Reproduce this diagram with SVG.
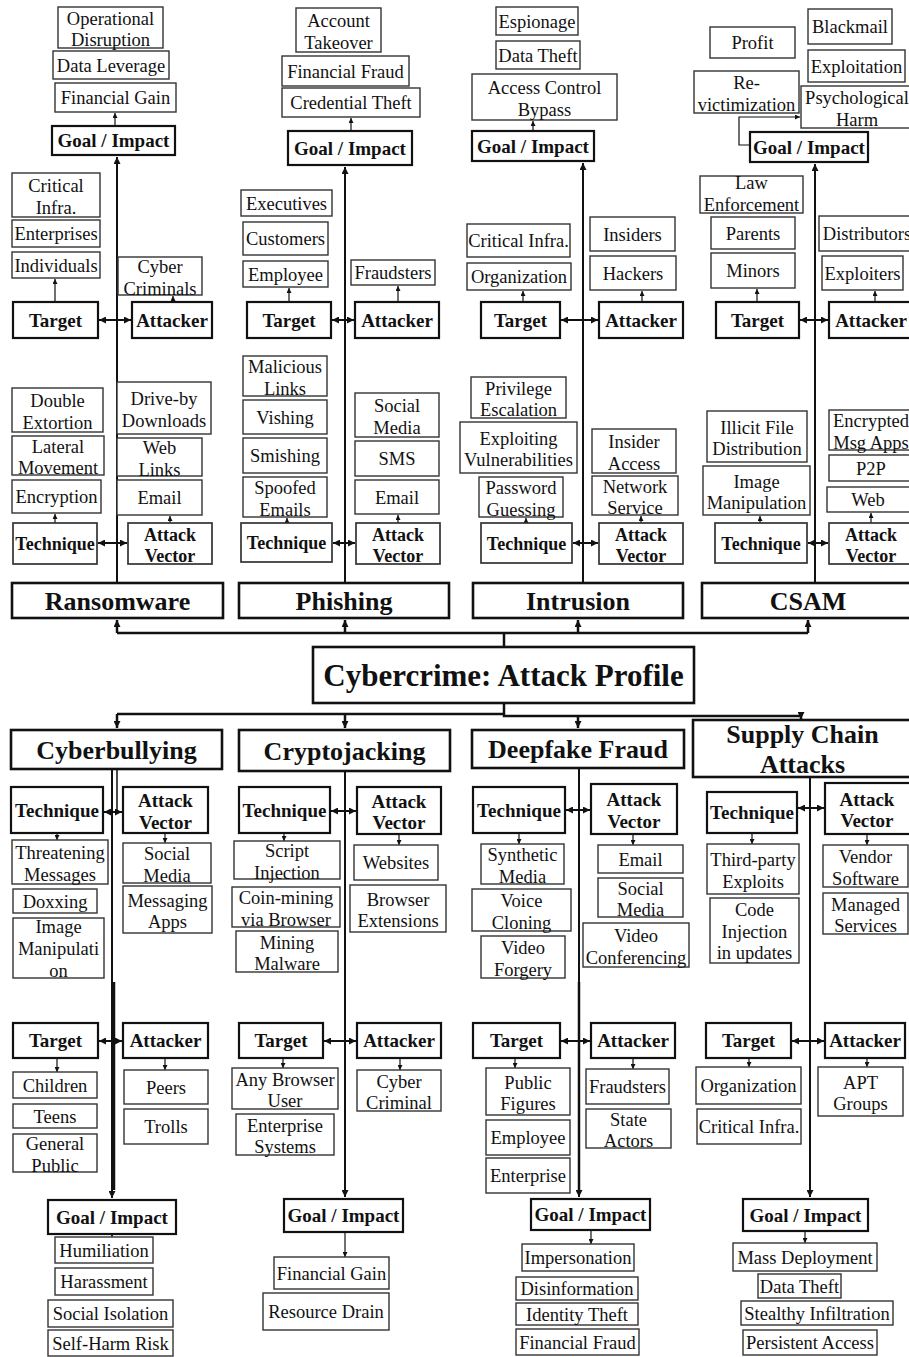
<svg xmlns="http://www.w3.org/2000/svg" width="909" height="1357" viewBox="0 0 909 1357">
<defs>
<marker id="a" viewBox="0 0 10 10" refX="10" refY="5" markerWidth="5" markerHeight="5" markerUnits="userSpaceOnUse" orient="auto-start-reverse"><path d="M0,0 L10,5 L0,10 z" fill="#111"/></marker>
<marker id="b" viewBox="0 0 10 10" refX="10" refY="5" markerWidth="8" markerHeight="7" markerUnits="userSpaceOnUse" orient="auto-start-reverse"><path d="M0,0 L10,5 L0,10 z" fill="#111"/></marker>
</defs>
<style>
.l rect{fill:#fff;stroke:#333;stroke-width:1.4}
.h rect{fill:#fff;stroke:#111;stroke-width:2.2}
.h.g rect{stroke:#333;stroke-width:1.7}
.c rect{fill:#fff;stroke:#111;stroke-width:2.6}
text{font-family:"Liberation Serif","DejaVu Serif",serif;fill:#111;text-anchor:middle}
.l text{font-size:18.5px}
.h text{font-size:19px;font-weight:bold}
.h text.s{font-size:18px}
.c text{font-size:26px;font-weight:bold}
.c text.m{font-size:31px}
#connectors path{fill:none;stroke:#111}
#connectors .w1{stroke-width:1.2;marker-end:url(#a)}
#connectors .w2{stroke-width:2;marker-end:url(#b)}
#connectors .d{stroke-width:2;marker-start:url(#b);marker-end:url(#b)}
#connectors .t{stroke-width:2.5}
#connectors .tu{stroke-width:2.5;marker-end:url(#b)}
</style>
<rect x="0" y="0" width="909" height="1357" fill="#fff"/>
<g id="connectors">
<path class="t" d="M504,647 V633 M117,633 H808"/>
<path class="tu" d="M117,633 V620"/>
<path class="tu" d="M345,633 V620"/>
<path class="tu" d="M578,633 V620"/>
<path class="tu" d="M808,633 V620"/>
<path class="w2" d="M117,583 V157"/>
<path class="w2" d="M345,583 V167"/>
<path class="w2" d="M583,583 V163"/>
<path class="w2" d="M815,583 V164"/>
<path class="w1" d="M115,126 V113"/>
<path class="w1" d="M55,302 V279"/>
<path class="w1" d="M173,302 V296"/>
<path class="w1" d="M55,523 V514"/>
<path class="w1" d="M170,523 V516"/>
<path class="w1" d="M351,131 V118"/>
<path class="w1" d="M289,302 V288"/>
<path class="w1" d="M398,302 V286"/>
<path class="w1" d="M287,523 V518"/>
<path class="w1" d="M398,523 V515"/>
<path class="w1" d="M533,131 V121"/>
<path class="w1" d="M523,302 V291"/>
<path class="w1" d="M642,302 V291"/>
<path class="w1" d="M526,523 V518"/>
<path class="w1" d="M641,523 V516"/>
<path class="w1" d="M750,145 H739 V117 H800"/>
<path class="w1" d="M757,302 V289"/>
<path class="w1" d="M875,302 V291"/>
<path class="w1" d="M760,523 V516"/>
<path class="w1" d="M871,523 V513"/>
<path class="d" d="M99,320 H131"/>
<path class="d" d="M332,320 H354"/>
<path class="d" d="M561,320 H598"/>
<path class="d" d="M800,320 H828"/>
<path class="d" d="M98,543 H127"/>
<path class="d" d="M333,543 H355"/>
<path class="d" d="M573,543 H598"/>
<path class="d" d="M808,543 H828"/>
<path class="t" d="M504,703 V714 M117,714 H504 M504,714 V716 H801"/>
<path class="tu" d="M117,714 V728"/>
<path class="tu" d="M345,714 V728"/>
<path class="tu" d="M578,716 V728"/>
<path class="tu" d="M801,714 V719"/>
<path class="w2" d="M112,769 V1198"/>
<path class="t" d="M114,982 V1190"/>
<path class="w2" d="M345,771 V1197"/>
<path class="w2" d="M579,768 V1197"/>
<path class="t" d="M579,982 V1190"/>
<path class="w2" d="M810,777 V1197"/>
<path d="M117,769 V812" style="stroke-width:1.5"/>
<path class="d" d="M104,812 H122"/>
<path class="d" d="M331,811 H356"/>
<path class="d" d="M566,810 H590"/>
<path class="d" d="M798,808 H824"/>
<path class="d" d="M99,1041 H122"/>
<path class="d" d="M324,1041 H356"/>
<path class="d" d="M561,1041 H590"/>
<path class="d" d="M792,1041 H824"/>
<path class="w1" d="M57,833 V840"/>
<path class="w1" d="M165,833 V843"/>
<path class="w1" d="M57,1058 V1072"/>
<path class="w1" d="M165,1058 V1070"/>
<path class="w1" d="M112,1234 V1237"/>
<path class="w1" d="M284,833 V841"/>
<path class="w1" d="M399,834 V845"/>
<path class="w1" d="M283,1058 V1068"/>
<path class="w1" d="M400,1058 V1070"/>
<path class="w1" d="M345,1232 V1257"/>
<path class="w1" d="M519,833 V844"/>
<path class="w1" d="M633,834 V845"/>
<path class="w1" d="M515,1058 V1068"/>
<path class="w1" d="M633,1058 V1069"/>
<path class="w1" d="M591,1230 V1244"/>
<path class="w1" d="M752,833 V844"/>
<path class="w1" d="M867,834 V845"/>
<path class="w1" d="M749,1058 V1067"/>
<path class="w1" d="M867,1058 V1067"/>
<path class="w1" d="M805,1231 V1243"/>
</g>

<!-- ===== Ransomware ===== -->
<g id="n-r-g1" class="l"><rect x="58" y="7" width="105" height="41"/><text x="110.5" y="24.5">Operational<tspan x="110.5" dy="21.5">Disruption</tspan></text></g>
<g id="n-r-g2" class="l"><rect x="53" y="51" width="116" height="28"/><text x="111" y="71.5">Data Leverage</text></g>
<g id="n-r-g3" class="l"><rect x="55" y="83" width="121" height="29"/><text x="115.5" y="104">Financial Gain</text></g>
<g id="n-r-goal" class="h"><rect x="52" y="126" width="123" height="29"/><text x="113.5" y="147">Goal / Impact</text></g>
<g id="n-r-t1" class="l"><rect x="12" y="173" width="88" height="44"/><text x="56" y="192">Critical<tspan x="56" dy="21.5">Infra.</tspan></text></g>
<g id="n-r-t2" class="l"><rect x="12" y="220" width="88" height="27"/><text x="56" y="240">Enterprises</text></g>
<g id="n-r-t3" class="l"><rect x="12" y="252" width="88" height="26"/><text x="56" y="271.5">Individuals</text></g>
<g id="n-r-target" class="h"><rect x="13" y="302" width="85" height="36"/><text x="55.5" y="326.5">Target</text></g>
<g id="n-r-a1" class="l"><rect x="118" y="257" width="84" height="38"/><text x="160" y="273">Cyber<tspan x="160" dy="21.5">Criminals</tspan></text></g>
<g id="n-r-attacker" class="h"><rect x="132" y="302" width="80" height="36"/><text x="172" y="326.5">Attacker</text></g>
<g id="n-r-te1" class="l"><rect x="12" y="388" width="91" height="44"/><text x="57.5" y="407">Double<tspan x="57.5" dy="21.5">Extortion</tspan></text></g>
<g id="n-r-te2" class="l"><rect x="12" y="436" width="92" height="39"/><text x="58" y="452.5">Lateral<tspan x="58" dy="21.5">Movement</tspan></text></g>
<g id="n-r-te3" class="l"><rect x="12" y="480" width="89" height="33"/><text x="56.5" y="503">Encryption</text></g>
<g id="n-r-tech" class="h g"><rect x="13" y="523" width="84" height="41"/><text class="s" x="55" y="550">Technique</text></g>
<g id="n-r-v1" class="l"><rect x="117" y="382" width="94" height="52"/><text x="164" y="405">Drive-by<tspan x="164" dy="21.5">Downloads</tspan></text></g>
<g id="n-r-v2" class="l"><rect x="117" y="438" width="85" height="38"/><text x="159.5" y="454">Web<tspan x="159.5" dy="21.5">Links</tspan></text></g>
<g id="n-r-v3" class="l"><rect x="117" y="480" width="85" height="35"/><text x="159.5" y="504">Email</text></g>
<g id="n-r-av" class="h g"><rect x="128" y="523" width="84" height="41"/><text class="s" x="170" y="540.5">Attack<tspan x="170" dy="21.5">Vector</tspan></text></g>
<g id="n-ransomware" class="c"><rect x="12" y="583" width="211" height="35"/><text x="117.5" y="609.5">Ransomware</text></g>

<!-- ===== Phishing ===== -->
<g id="n-p-g1" class="l"><rect x="296" y="8" width="85" height="44"/><text x="338.5" y="27">Account<tspan x="338.5" dy="21.5">Takeover</tspan></text></g>
<g id="n-p-g2" class="l"><rect x="282" y="56" width="127" height="30"/><text x="345.5" y="77.5">Financial Fraud</text></g>
<g id="n-p-g3" class="l"><rect x="282" y="88" width="138" height="29"/><text x="351" y="109">Credential Theft</text></g>
<g id="n-p-goal" class="h"><rect x="288" y="131" width="124" height="34"/><text x="350" y="154.5">Goal / Impact</text></g>
<g id="n-p-t1" class="l"><rect x="241" y="190" width="91" height="26"/><text x="286.5" y="209.5">Executives</text></g>
<g id="n-p-t2" class="l"><rect x="243" y="222" width="85" height="33"/><text x="285.5" y="245">Customers</text></g>
<g id="n-p-t3" class="l"><rect x="243" y="261" width="85" height="26"/><text x="285.5" y="280.5">Employee</text></g>
<g id="n-p-target" class="h"><rect x="247" y="302" width="84" height="36"/><text x="289" y="326.5">Target</text></g>
<g id="n-p-a1" class="l"><rect x="351" y="260" width="84" height="25"/><text x="393" y="279">Fraudsters</text></g>
<g id="n-p-attacker" class="h"><rect x="355" y="302" width="84" height="36"/><text x="397" y="326.5">Attacker</text></g>
<g id="n-p-te1" class="l"><rect x="243" y="356" width="84" height="40"/><text x="285" y="373">Malicious<tspan x="285" dy="21.5">Links</tspan></text></g>
<g id="n-p-te2" class="l"><rect x="243" y="400" width="84" height="34"/><text x="285" y="423.5">Vishing</text></g>
<g id="n-p-te3" class="l"><rect x="243" y="438" width="84" height="35"/><text x="285" y="462">Smishing</text></g>
<g id="n-p-te4" class="l"><rect x="243" y="477" width="84" height="40"/><text x="285" y="494">Spoofed<tspan x="285" dy="21.5">Emails</tspan></text></g>
<g id="n-p-tech" class="h g"><rect x="241" y="523" width="91" height="39"/><text class="s" x="286.5" y="549">Technique</text></g>
<g id="n-p-v1" class="l"><rect x="355" y="393" width="84" height="44"/><text x="397" y="412">Social<tspan x="397" dy="21.5">Media</tspan></text></g>
<g id="n-p-v2" class="l"><rect x="355" y="441" width="84" height="35"/><text x="397" y="465">SMS</text></g>
<g id="n-p-v3" class="l"><rect x="355" y="480" width="84" height="34"/><text x="397" y="503.5">Email</text></g>
<g id="n-p-av" class="h g"><rect x="356" y="523" width="84" height="41"/><text class="s" x="398" y="540.5">Attack<tspan x="398" dy="21.5">Vector</tspan></text></g>
<g id="n-phishing" class="c"><rect x="239" y="583" width="210" height="35"/><text x="344" y="609.5">Phishing</text></g>

<!-- ===== Intrusion ===== -->
<g id="n-i-g1" class="l"><rect x="496" y="7" width="82" height="28"/><text x="537" y="27.5">Espionage</text></g>
<g id="n-i-g2" class="l"><rect x="496" y="41" width="84" height="28"/><text x="538" y="61.5">Data Theft</text></g>
<g id="n-i-g3" class="l"><rect x="472" y="74" width="145" height="46"/><text x="544.5" y="94">Access Control<tspan x="544.5" dy="21.5">Bypass</tspan></text></g>
<g id="n-i-goal" class="h"><rect x="472" y="131" width="122" height="30"/><text x="533" y="152.5">Goal / Impact</text></g>
<g id="n-i-t1" class="l"><rect x="467" y="224" width="103" height="33"/><text x="518.5" y="247">Critical Infra.</text></g>
<g id="n-i-t2" class="l"><rect x="467" y="263" width="104" height="27"/><text x="519" y="283">Organization</text></g>
<g id="n-i-target" class="h"><rect x="481" y="302" width="79" height="36"/><text x="520.5" y="326.5">Target</text></g>
<g id="n-i-a1" class="l"><rect x="590" y="217" width="85" height="34"/><text x="632.5" y="240.5">Insiders</text></g>
<g id="n-i-a2" class="l"><rect x="590" y="256" width="86" height="34"/><text x="633" y="279.5">Hackers</text></g>
<g id="n-i-attacker" class="h"><rect x="599" y="302" width="84" height="36"/><text x="641" y="326.5">Attacker</text></g>
<g id="n-i-te1" class="l"><rect x="471" y="377" width="95" height="41"/><text x="518.5" y="394.5">Privilege<tspan x="518.5" dy="21.5">Escalation</tspan></text></g>
<g id="n-i-te2" class="l"><rect x="460" y="422" width="117" height="51"/><text x="518.5" y="444.5">Exploiting<tspan x="518.5" dy="21.5">Vulnerabilities</tspan></text></g>
<g id="n-i-te3" class="l"><rect x="479" y="477" width="84" height="40"/><text x="521" y="494">Password<tspan x="521" dy="21.5">Guessing</tspan></text></g>
<g id="n-i-tech" class="h g"><rect x="481" y="523" width="91" height="40"/><text class="s" x="526.5" y="549.5">Technique</text></g>
<g id="n-i-v1" class="l"><rect x="592" y="429" width="84" height="44"/><text x="634" y="448">Insider<tspan x="634" dy="21.5">Access</tspan></text></g>
<g id="n-i-v2" class="l"><rect x="592" y="476" width="86" height="39"/><text x="635" y="492.5">Network<tspan x="635" dy="21.5">Service</tspan></text></g>
<g id="n-i-av" class="h g"><rect x="599" y="523" width="84" height="41"/><text class="s" x="641" y="540.5">Attack<tspan x="641" dy="21.5">Vector</tspan></text></g>
<g id="n-intrusion" class="c"><rect x="473" y="583" width="210" height="35"/><text x="578" y="609.5">Intrusion</text></g>

<!-- ===== CSAM ===== -->
<g id="n-c-g1" class="l"><rect x="808" y="9" width="84" height="35"/><text x="850" y="33">Blackmail</text></g>
<g id="n-c-g2" class="l"><rect x="710" y="27" width="85" height="31"/><text x="752.5" y="49">Profit</text></g>
<g id="n-c-g3" class="l"><rect x="808" y="50" width="97" height="32"/><text x="856.5" y="72.5">Exploitation</text></g>
<g id="n-c-g4" class="l"><rect x="694" y="71" width="105" height="42"/><text x="746.5" y="89">Re-<tspan x="746.5" dy="21.5">victimization</tspan></text></g>
<g id="n-c-g5" class="l"><rect x="801" y="86" width="112" height="42"/><text x="857" y="104">Psychological<tspan x="857" dy="21.5">Harm</tspan></text></g>
<g id="n-c-goal" class="h"><rect x="750" y="132" width="118" height="30"/><text x="809" y="153.5">Goal / Impact</text></g>
<g id="n-c-t1" class="l"><rect x="700" y="176" width="103" height="37"/><text x="751.5" y="189">Law<tspan x="751.5" dy="21.5">Enforcement</tspan></text></g>
<g id="n-c-t2" class="l"><rect x="711" y="217" width="84" height="32"/><text x="753" y="239.5">Parents</text></g>
<g id="n-c-t3" class="l"><rect x="711" y="253" width="84" height="35"/><text x="753" y="277">Minors</text></g>
<g id="n-c-target" class="h"><rect x="716" y="302" width="83" height="36"/><text x="757.5" y="326.5">Target</text></g>
<g id="n-c-a1" class="l"><rect x="819" y="216" width="96" height="35"/><text x="867" y="240">Distributors</text></g>
<g id="n-c-a2" class="l"><rect x="822" y="256" width="81" height="34"/><text x="862.5" y="279.5">Exploiters</text></g>
<g id="n-c-attacker" class="h"><rect x="829" y="302" width="84" height="36"/><text x="871" y="326.5">Attacker</text></g>
<g id="n-c-te1" class="l"><rect x="707" y="411" width="100" height="51"/><text x="757" y="433.5">Illicit File<tspan x="757" dy="21.5">Distribution</tspan></text></g>
<g id="n-c-te2" class="l"><rect x="703" y="466" width="107" height="49"/><text x="756.5" y="487.5">Image<tspan x="756.5" dy="21.5">Manipulation</tspan></text></g>
<g id="n-c-tech" class="h g"><rect x="715" y="523" width="92" height="40"/><text class="s" x="761" y="549.5">Technique</text></g>
<g id="n-c-v1" class="l"><rect x="829" y="410" width="84" height="40"/><text x="871" y="427">Encrypted<tspan x="871" dy="21.5">Msg Apps</tspan></text></g>
<g id="n-c-v2" class="l"><rect x="829" y="455" width="84" height="26"/><text x="871" y="474.5">P2P</text></g>
<g id="n-c-v3" class="l"><rect x="827" y="487" width="86" height="25"/><text x="868" y="506">Web</text></g>
<g id="n-c-av" class="h g"><rect x="829" y="523" width="84" height="41"/><text class="s" x="871" y="540.5">Attack<tspan x="871" dy="21.5">Vector</tspan></text></g>
<g id="n-csam" class="c"><rect x="702" y="583" width="213" height="35"/><text x="808" y="609.5">CSAM</text></g>

<!-- ===== Main ===== -->
<g id="n-main" class="c"><rect x="313" y="647" width="381" height="56"/><text class="m" x="503.5" y="686">Cybercrime: Attack Profile</text></g>

<!-- ===== Cyberbullying ===== -->
<g id="n-cyberbullying" class="c"><rect x="11" y="730" width="211" height="39"/><text x="116.5" y="758.5">Cyberbullying</text></g>
<g id="n-b-tech" class="h"><rect x="11" y="787" width="92" height="46"/><text x="57" y="816.5">Technique</text></g>
<g id="n-b-av" class="h"><rect x="123" y="787" width="85" height="46"/><text x="165.5" y="807">Attack<tspan x="165.5" dy="21.5">Vector</tspan></text></g>
<g id="n-b-te1" class="l"><rect x="12" y="840" width="96" height="44"/><text x="60" y="859">Threatening<tspan x="60" dy="21.5">Messages</tspan></text></g>
<g id="n-b-te2" class="l"><rect x="13" y="889" width="84" height="24"/><text x="55" y="907.5">Doxxing</text></g>
<g id="n-b-te3" class="l"><rect x="13" y="918" width="91" height="60"/><text x="58.5" y="933">Image<tspan x="58.5" dy="22">Manipulati</tspan><tspan x="58.5" dy="22">on</tspan></text></g>
<g id="n-b-v1" class="l"><rect x="123" y="843" width="88" height="40"/><text x="167" y="860">Social<tspan x="167" dy="21.5">Media</tspan></text></g>
<g id="n-b-v2" class="l"><rect x="123" y="886" width="89" height="47"/><text x="167.5" y="906.5">Messaging<tspan x="167.5" dy="21.5">Apps</tspan></text></g>
<g id="n-b-target" class="h"><rect x="13" y="1023" width="85" height="35"/><text x="55.5" y="1047">Target</text></g>
<g id="n-b-attacker" class="h"><rect x="123" y="1023" width="85" height="35"/><text x="165.5" y="1047">Attacker</text></g>
<g id="n-b-t1" class="l"><rect x="13" y="1072" width="84" height="26"/><text x="55" y="1091.5">Children</text></g>
<g id="n-b-t2" class="l"><rect x="13" y="1104" width="84" height="24"/><text x="55" y="1122.5">Teens</text></g>
<g id="n-b-t3" class="l"><rect x="13" y="1134" width="84" height="38"/><text x="55" y="1150">General<tspan x="55" dy="21.5">Public</tspan></text></g>
<g id="n-b-a1" class="l"><rect x="124" y="1070" width="84" height="34"/><text x="166" y="1093.5">Peers</text></g>
<g id="n-b-a2" class="l"><rect x="124" y="1109" width="84" height="35"/><text x="166" y="1133">Trolls</text></g>
<g id="n-b-goal" class="h"><rect x="48" y="1200" width="128" height="34"/><text x="112" y="1223.5">Goal / Impact</text></g>
<g id="n-b-g1" class="l"><rect x="55" y="1237" width="98" height="26"/><text x="104" y="1256.5">Humiliation</text></g>
<g id="n-b-g2" class="l"><rect x="55" y="1268" width="98" height="27"/><text x="104" y="1288">Harassment</text></g>
<g id="n-b-g3" class="l"><rect x="48" y="1300" width="125" height="27"/><text x="110.5" y="1320">Social Isolation</text></g>
<g id="n-b-g4" class="l"><rect x="48" y="1330" width="125" height="26"/><text x="110.5" y="1349.5">Self-Harm Risk</text></g>

<!-- ===== Cryptojacking ===== -->
<g id="n-cryptojacking" class="c"><rect x="239" y="730" width="211" height="41"/><text x="344.5" y="759.5">Cryptojacking</text></g>
<g id="n-k-tech" class="h"><rect x="239" y="787" width="91" height="46"/><text x="284.5" y="816.5">Technique</text></g>
<g id="n-k-av" class="h"><rect x="357" y="787" width="84" height="47"/><text x="399" y="807.5">Attack<tspan x="399" dy="21.5">Vector</tspan></text></g>
<g id="n-k-te1" class="l"><rect x="234" y="841" width="106" height="38"/><text x="287" y="857">Script<tspan x="287" dy="21.5">Injection</tspan></text></g>
<g id="n-k-te2" class="l"><rect x="232" y="887" width="108" height="40"/><text x="286" y="904">Coin-mining<tspan x="286" dy="21.5">via Browser</tspan></text></g>
<g id="n-k-te3" class="l"><rect x="236" y="931" width="102" height="41"/><text x="287" y="948.5">Mining<tspan x="287" dy="21.5">Malware</tspan></text></g>
<g id="n-k-v1" class="l"><rect x="354" y="845" width="84" height="35"/><text x="396" y="869">Websites</text></g>
<g id="n-k-v2" class="l"><rect x="350" y="885" width="96" height="47"/><text x="398" y="905.5">Browser<tspan x="398" dy="21.5">Extensions</tspan></text></g>
<g id="n-k-target" class="h"><rect x="239" y="1023" width="84" height="35"/><text x="281" y="1047">Target</text></g>
<g id="n-k-attacker" class="h"><rect x="357" y="1023" width="84" height="35"/><text x="399" y="1047">Attacker</text></g>
<g id="n-k-t1" class="l"><rect x="232" y="1068" width="106" height="41"/><text x="285" y="1085.5">Any Browser<tspan x="285" dy="21.5">User</tspan></text></g>
<g id="n-k-t2" class="l"><rect x="236" y="1114" width="98" height="41"/><text x="285" y="1131.5">Enterprise<tspan x="285" dy="21.5">Systems</tspan></text></g>
<g id="n-k-a1" class="l"><rect x="357" y="1070" width="84" height="41"/><text x="399" y="1087.5">Cyber<tspan x="399" dy="21.5">Criminal</tspan></text></g>
<g id="n-k-goal" class="h"><rect x="284" y="1199" width="119" height="33"/><text x="343.5" y="1222">Goal / Impact</text></g>
<g id="n-k-g1" class="l"><rect x="274" y="1257" width="115" height="32"/><text x="331.5" y="1279.5">Financial Gain</text></g>
<g id="n-k-g2" class="l"><rect x="263" y="1293" width="126" height="37"/><text x="326" y="1318">Resource Drain</text></g>

<!-- ===== Deepfake Fraud ===== -->
<g id="n-deepfake" class="c"><rect x="472" y="730" width="212" height="38"/><text x="578" y="758">Deepfake Fraud</text></g>
<g id="n-d-tech" class="h"><rect x="473" y="787" width="92" height="46"/><text x="519" y="816.5">Technique</text></g>
<g id="n-d-av" class="h"><rect x="591" y="784" width="86" height="50"/><text x="634" y="806">Attack<tspan x="634" dy="21.5">Vector</tspan></text></g>
<g id="n-d-te1" class="l"><rect x="481" y="844" width="83" height="40"/><text x="522.5" y="861">Synthetic<tspan x="522.5" dy="21.5">Media</tspan></text></g>
<g id="n-d-te2" class="l"><rect x="472" y="889" width="99" height="42"/><text x="521.5" y="907">Voice<tspan x="521.5" dy="21.5">Cloning</tspan></text></g>
<g id="n-d-te3" class="l"><rect x="481" y="936" width="84" height="42"/><text x="523" y="954">Video<tspan x="523" dy="21.5">Forgery</tspan></text></g>
<g id="n-d-v1" class="l"><rect x="598" y="845" width="85" height="28"/><text x="640.5" y="865.5">Email</text></g>
<g id="n-d-v2" class="l"><rect x="598" y="878" width="85" height="39"/><text x="640.5" y="894.5">Social<tspan x="640.5" dy="21.5">Media</tspan></text></g>
<g id="n-d-v3" class="l"><rect x="583" y="923" width="106" height="44"/><text x="636" y="942">Video<tspan x="636" dy="21.5">Conferencing</tspan></text></g>
<g id="n-d-target" class="h"><rect x="473" y="1023" width="87" height="35"/><text x="516.5" y="1047">Target</text></g>
<g id="n-d-attacker" class="h"><rect x="591" y="1023" width="84" height="35"/><text x="633" y="1047">Attacker</text></g>
<g id="n-d-t1" class="l"><rect x="486" y="1068" width="84" height="47"/><text x="528" y="1088.5">Public<tspan x="528" dy="21.5">Figures</tspan></text></g>
<g id="n-d-t2" class="l"><rect x="486" y="1120" width="84" height="35"/><text x="528" y="1144">Employee</text></g>
<g id="n-d-t3" class="l"><rect x="486" y="1158" width="84" height="35"/><text x="528" y="1182">Enterprise</text></g>
<g id="n-d-a1" class="l"><rect x="586" y="1069" width="83" height="35"/><text x="627.5" y="1093">Fraudsters</text></g>
<g id="n-d-a2" class="l"><rect x="586" y="1109" width="85" height="39"/><text x="628.5" y="1125.5">State<tspan x="628.5" dy="21.5">Actors</tspan></text></g>
<g id="n-d-goal" class="h"><rect x="531" y="1199" width="119" height="31"/><text x="590.5" y="1221">Goal / Impact</text></g>
<g id="n-d-g1" class="l"><rect x="522" y="1244" width="112" height="27"/><text x="578" y="1264">Impersonation</text></g>
<g id="n-d-g2" class="l"><rect x="516" y="1277" width="122" height="23"/><text x="577" y="1295">Disinformation</text></g>
<g id="n-d-g3" class="l"><rect x="516" y="1303" width="122" height="22"/><text x="577" y="1320.5">Identity Theft</text></g>
<g id="n-d-g4" class="l"><rect x="516" y="1329" width="123" height="26"/><text x="577.5" y="1348.5">Financial Fraud</text></g>

<!-- ===== Supply Chain Attacks ===== -->
<g id="n-supply" class="c"><rect x="693" y="720" width="219" height="57"/><text x="802.5" y="743">Supply Chain<tspan x="802.5" dy="30">Attacks</tspan></text></g>
<g id="n-s-tech" class="h"><rect x="707" y="792" width="90" height="41"/><text x="752" y="819">Technique</text></g>
<g id="n-s-av" class="h"><rect x="825" y="783" width="87" height="51"/><text x="867" y="805.5">Attack<tspan x="867" dy="21.5">Vector</tspan></text></g>
<g id="n-s-te1" class="l"><rect x="707" y="844" width="92" height="50"/><text x="753" y="866">Third-party<tspan x="753" dy="21.5">Exploits</tspan></text></g>
<g id="n-s-te2" class="l"><rect x="710" y="898" width="89" height="65"/><text x="754.5" y="916">Code<tspan x="754.5" dy="21.5">Injection</tspan><tspan x="754.5" dy="21.5">in updates</tspan></text></g>
<g id="n-s-v1" class="l"><rect x="823" y="845" width="85" height="42"/><text x="865.5" y="863">Vendor<tspan x="865.5" dy="21.5">Software</tspan></text></g>
<g id="n-s-v2" class="l"><rect x="823" y="893" width="85" height="41"/><text x="865.5" y="910.5">Managed<tspan x="865.5" dy="21.5">Services</tspan></text></g>
<g id="n-s-target" class="h"><rect x="706" y="1023" width="85" height="35"/><text x="748.5" y="1047">Target</text></g>
<g id="n-s-attacker" class="h"><rect x="825" y="1023" width="80" height="35"/><text x="865" y="1047">Attacker</text></g>
<g id="n-s-t1" class="l"><rect x="696" y="1067" width="105" height="37"/><text x="748.5" y="1092">Organization</text></g>
<g id="n-s-t2" class="l"><rect x="697" y="1109" width="104" height="35"/><text x="749" y="1133">Critical Infra.</text></g>
<g id="n-s-a1" class="l"><rect x="818" y="1067" width="85" height="49"/><text x="860.5" y="1088.5">APT<tspan x="860.5" dy="21.5">Groups</tspan></text></g>
<g id="n-s-goal" class="h"><rect x="743" y="1199" width="125" height="32"/><text x="805.5" y="1221.5">Goal / Impact</text></g>
<g id="n-s-g1" class="l"><rect x="733" y="1243" width="144" height="28"/><text x="805" y="1263.5">Mass Deployment</text></g>
<g id="n-s-g2" class="l"><rect x="758" y="1274" width="83" height="24"/><text x="799.5" y="1292.5">Data Theft</text></g>
<g id="n-s-g3" class="l"><rect x="741" y="1301" width="152" height="24"/><text x="817" y="1319.5">Stealthy Infiltration</text></g>
<g id="n-s-g4" class="l"><rect x="743" y="1330" width="134" height="25"/><text x="810" y="1349">Persistent Access</text></g>
</svg>
